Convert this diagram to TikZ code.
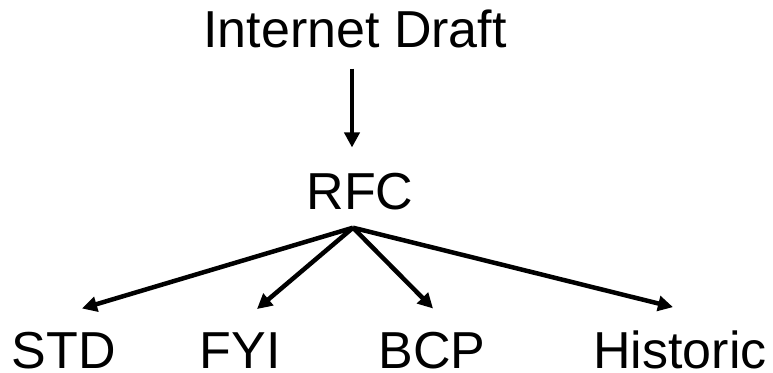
\documentclass[tikz,border=0pt]{standalone}
\usepackage{fontspec}
\setmainfont{Liberation Sans}
\usepackage{tikz}
\usetikzlibrary{calc}
\usetikzlibrary{arrows.meta,positioning}

\begin{document}
\begin{tikzpicture}[x=1pt,y=1pt,
	lbl/.style={anchor=base,inner sep=0pt,font=\fontsize{52}{60}\selectfont},
	arr/.style={-{Triangle[length=15pt,width=15pt]},line width=4.5pt,line join=round}]
	\useasboundingbox (0,0) rectangle (773,372);
	\node[lbl] (draft) at (355,324) {Internet Draft};
	\node[lbl] (rfc) at (360,162) {RFC};
	\node[lbl] (std) at (64,4) {STD};
	\node[lbl] (fyi) at (240,4) {FYI};
	\node[lbl] (bcp) at (432,4) {BCP};
	\node[lbl] (hist) at (680,4) {Historic};
	\coordinate (apex) at ($(rfc.south)+(-7,-17)$);
	\draw[arr] ($(draft.south)+(-3,-20)$) -- ($(rfc.north)+(-8,26)$);
	\draw[arr] (apex) -- ($(std.north)+(18,23)$);
	\draw[arr] (apex) -- ($(fyi.north)+(17,23)$);
	\draw[arr] (apex) -- ($(bcp.north)+(1,23)$);
	\draw[arr] (apex) -- ($(hist.north)+(-7,23)$);
\end{tikzpicture}
\end{document}
